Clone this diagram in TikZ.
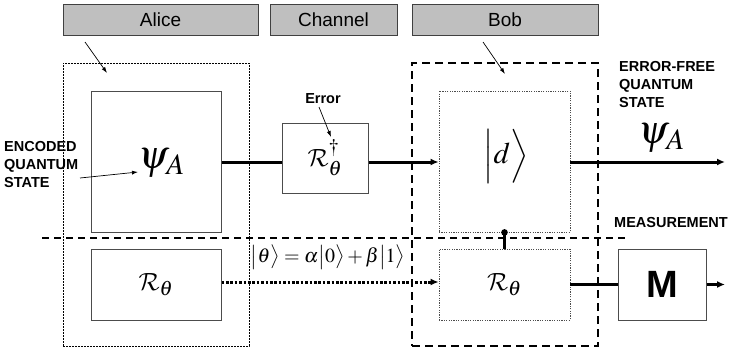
\documentclass[tikz,border=0pt]{standalone}
\usepackage{mathptmx}
\DeclareMathAlphabet{\mathcal}{OMS}{cmsy}{m}{n}
\usepackage[no-math]{fontspec}
\setmainfont{Liberation Sans}
\usetikzlibrary{arrows.meta}
\begin{document}
\begin{tikzpicture}[x=1pt,y=-1pt,
  graybox/.style={draw=black!75,fill=black!25,line width=0.8pt,inner sep=0pt,font=\fontsize{19}{19}\selectfont},
  plainbox/.style={draw=black!70,line width=1pt,inner sep=0pt},
  finedot/.style={draw=black!70,line width=0.8pt,dash pattern=on 1.2pt off 1.2pt,inner sep=0pt},
  regionA/.style={draw=black,line width=0.9pt,dash pattern=on 1.6pt off 1.4pt,inner sep=0pt},
  regionB/.style={draw=black,line width=1.4pt,dash pattern=on 8pt off 5pt,inner sep=0pt},
  lbl/.style={font=\fontsize{14.5}{18}\selectfont\bfseries,inner sep=0pt,align=left},
  thick line/.style={line width=3pt},
  arr/.style={-{Latex[length=8pt,width=7pt]}},
  thin arr/.style={line width=0.7pt,-{Latex[length=6pt,width=4pt]}},
  bigmath/.style={font=\fontsize{40}{40}\selectfont,inner sep=0pt},
  calmath/.style={font=\fontsize{28}{28}\selectfont}
]
\useasboundingbox (0,0) rectangle (734,351);
% header boxes
\node[graybox,minimum width=195pt,minimum height=31pt] (alice) at (160.5,19.5) {Alice};
\node[graybox,minimum width=127pt,minimum height=31pt] (channel) at (333.5,19.5) {Channel};
\node[graybox,minimum width=186pt,minimum height=31pt] (bob) at (505,19.5) {Bob};
% regions
\node[regionA,minimum width=186pt,minimum height=283pt] (aregion) at (156,204.5) {};
\node[regionB,minimum width=186pt,minimum height=283pt] (bregion) at (505,204.5) {};
% boxes
\node[plainbox,fill=white,minimum width=130pt,minimum height=141pt] (psi) at (156,161.5) {};
\node[bigmath] (psiin) at (162,163) {$\psi_{A}$};
\node[plainbox,calmath,minimum width=86pt,minimum height=70pt] (rdag) at (325,158) {$\mathcal{R}_\theta^\dagger$};
\node[finedot,fill=white,minimum width=131pt,minimum height=141pt] (dbox) at (504.5,161.5) {};
\node[inner sep=0pt,font=\fontsize{30}{30}\selectfont] (dket) at (506,156) {$\Bigl|d\Bigr\rangle$};
\node[plainbox,calmath,fill=white,minimum width=130pt,minimum height=71pt] (rleft) at (156,284.5) {$\mathcal{R}_\theta$};
\node[finedot,calmath,fill=white,minimum width=131pt,minimum height=71pt] (rbob) at (504.5,284.5) {$\mathcal{R}_\theta$};
\node[plainbox,minimum width=88pt,minimum height=71pt,font=\fontsize{38}{38}\selectfont\bfseries] (mbox) at (662,284.5) {M};
% separator
\coordinate (sepL) at (42,238);
\coordinate (sepR) at (625,238);
\draw[black,line width=1.1pt,dash pattern=on 7pt off 5pt] (sepL) -- (sepR);
% main connectors
\draw[thick line] (psi.east |- 0,162) -- (rdag.west |- 0,162);
\draw[thick line,arr] (rdag.east |- 0,162) -- (dbox.west |- 0,162);
\coordinate (out1) at (725,162);
\draw[thick line,arr] (dbox.east |- 0,162) -- (out1);
\draw[line width=3pt,dash pattern=on 2.6pt off 1.8pt,-{Latex[length=8pt,width=7pt]}] (rleft.east |- 0,282) -- (rbob.west |- 0,282);
\draw[thick line] (rbob.east) -- (mbox.west);
\coordinate (out2) at (725,284.5);
\draw[thick line,arr] (mbox.east) -- (out2);
\fill (dbox.south) circle (3.3pt);
\draw[line width=2.4pt] (dbox.south) -- (rbob.north);
% labels
\node[lbl] (err) at (323,99) {Error};
\draw[thin arr] (319,107) -- (331,137);
\node[lbl,anchor=west] (enc) at (4,165) {ENCODED\\QUANTUM\\STATE};
\coordinate (encS) at (80,178);
\coordinate (encE) at (138,172);
\draw[thin arr] (encS) -- (encE);
\node[lbl,anchor=west] (efree) at (619,85) {ERROR-FREE\\QUANTUM\\STATE};
\node[bigmath] (psiout) at (662,138) {$\psi_{A}$};
\node[lbl,anchor=west] (meas) at (614,223) {MEASUREMENT};
\node[inner sep=0pt,font=\fontsize{20}{20}\selectfont] (theta) at (328,257) {$\bigl|\theta\bigr\rangle=\alpha\bigl|0\bigr\rangle+\beta\bigl|1\bigr\rangle$};
% pointer arrows from header boxes
\coordinate (aS) at (85,42); \coordinate (aE) at (107,73);
\draw[thin arr] (aS) -- (aE);
\coordinate (bS) at (483,42); \coordinate (bE) at (505,74);
\draw[thin arr] (bS) -- (bE);
\end{tikzpicture}
\end{document}
